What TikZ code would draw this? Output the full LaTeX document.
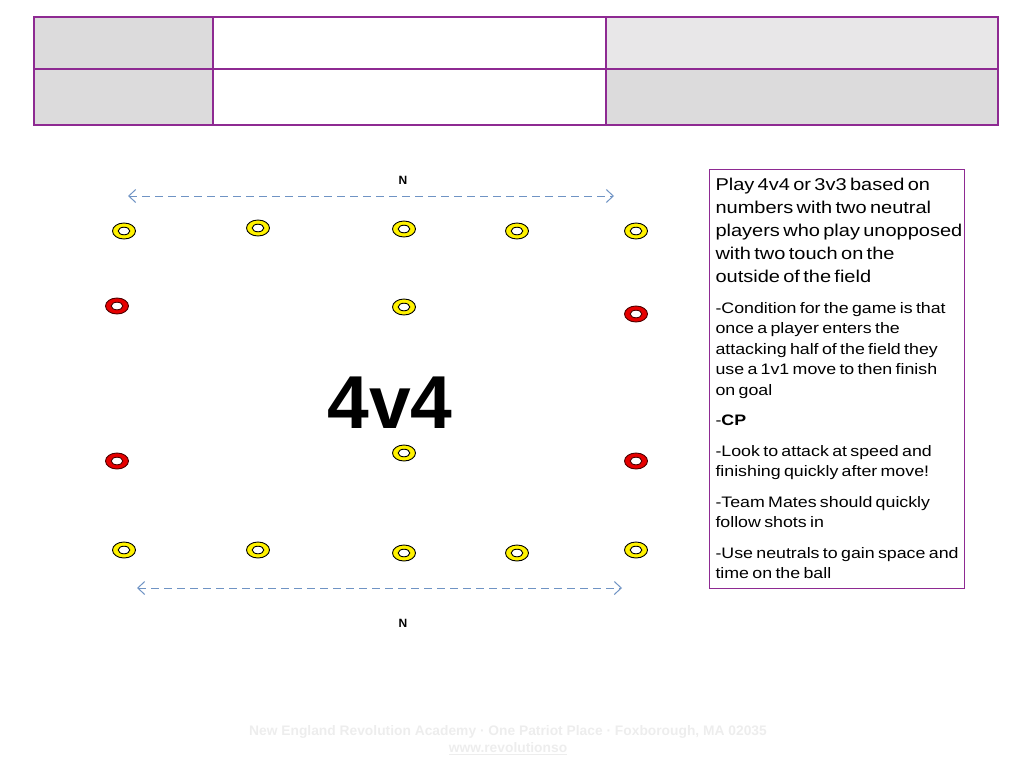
\documentclass[tikz,border=0pt]{standalone}
\usepackage{fontspec}
\setmainfont{Liberation Sans}
\newfontfamily\notefont[FakeStretch=1.17]{Liberation Sans}
\usetikzlibrary{shapes.geometric,arrows.meta}

\definecolor{gridpurple}{HTML}{8E2A92}
\definecolor{cellgray}{HTML}{DCDBDC}
\definecolor{celllight}{HTML}{E8E7E8}
\definecolor{conered}{HTML}{E60000}
\definecolor{arrowblue}{HTML}{6F93C4}
\definecolor{footgray}{HTML}{EDEDED}

\tikzset{
  cone/.style={ellipse, draw=black, line width=0.9pt, minimum width=23pt, minimum height=16pt, inner sep=0pt,
    path picture={\draw[fill=white, line width=0.9pt] (path picture bounding box.center) ellipse (5.8pt and 3.8pt);}},
  yellowcone/.style={cone, fill=yellow},
  redcone/.style={cone, fill=conered, draw=black!70!red},
  widtharrow/.style={draw=arrowblue, line width=1pt, dash pattern=on 8pt off 5pt,
    {Straight Barb[length=7pt,width=13pt]}-{Straight Barb[length=7pt,width=13pt]}},
  northlabel/.style={font=\fontsize{12}{14}\selectfont\bfseries},
  notes/.style={draw=gridpurple, line width=1pt, anchor=north west, text width=243pt, align=left,
    inner xsep=6pt, inner ysep=9pt, font=\notefont}
}

\begin{document}
\begin{tikzpicture}[x=1pt, y=-1pt]
  \useasboundingbox (0,0) rectangle (1024,768);

  % header table
  \fill[cellgray] (34,17) rectangle (213,125);
  \fill[celllight] (606,17) rectangle (998,69);
  \fill[cellgray] (606,69) rectangle (998,125);
  \draw[gridpurple, line width=2pt] (34,17) rectangle (998,125);
  \draw[gridpurple, line width=2pt] (34,69) -- (998,69);
  \draw[gridpurple, line width=1.5pt] (213,17) -- (213,125) (606,17) -- (606,125);

  % cones
  \foreach \x/\y [count=\i] in {124/231, 258/228, 404/229, 517/231, 636/231}
    \node[yellowcone] (top\i) at (\x,\y) {};
  \foreach \x/\y [count=\i] in {124/550, 258/550, 404/553, 517/553, 636/550}
    \node[yellowcone] (bot\i) at (\x,\y) {};
  \node[yellowcone] (mid1) at (404,307) {};
  \node[yellowcone] (mid2) at (404,453) {};
  \node[redcone] (redtl) at (117,306) {};
  \node[redcone] (redtr) at (636,314) {};
  \node[redcone] (redbl) at (117,461) {};
  \node[redcone] (redbr) at (636,461) {};

  % field width
  \coordinate (arrtopl) at (128,196);
  \coordinate (arrtopr) at (614,196);
  \coordinate (arrbotl) at (137,588);
  \coordinate (arrbotr) at (622,588);
  \draw[widtharrow] (arrtopl) -- (arrtopr);
  \draw[widtharrow] (arrbotl) -- (arrbotr);
  \node[northlabel] (ntop) at (403,180) {N};
  \node[northlabel] (nbot) at (403,623) {N};

  \node[font=\fontsize{75}{80}\selectfont\bfseries] (game) at (390,403) {4v4};

  \node[notes] (coach) at (709,169) {%
    \hyphenpenalty=10000 \setlength{\parskip}{10pt}%
    \fontsize{17.1}{23}\selectfont
    Play 4v4 or 3v3 based on\\ numbers with two neutral\\ \mbox{players who play unopposed}\\ with two touch on the\\ outside of the field\par
    \fontsize{15.2}{20.5}\selectfont
    \mbox{-Condition for the game is that}\\ once a player enters the\\ \mbox{attacking half of the field they}\\ \mbox{use a 1v1 move to then finish}\\ on goal\par
    -\textbf{CP}\par
    -Look to attack at speed and\\ \mbox{finishing quickly after move!}\par
    -Team Mates should quickly\\ follow shots in\par
    \mbox{-Use neutrals to gain space and}\\ time on the ball\par\vspace*{8pt}};

  % footer
  \node[text=footgray, font=\fontsize{13.8}{17}\selectfont\bfseries, align=center] (foot) at (508,740)
    {New England Revolution Academy · One Patriot Place · Foxborough, MA 02035\\ \underline{www.revolutionso}};
\end{tikzpicture}
\end{document}
